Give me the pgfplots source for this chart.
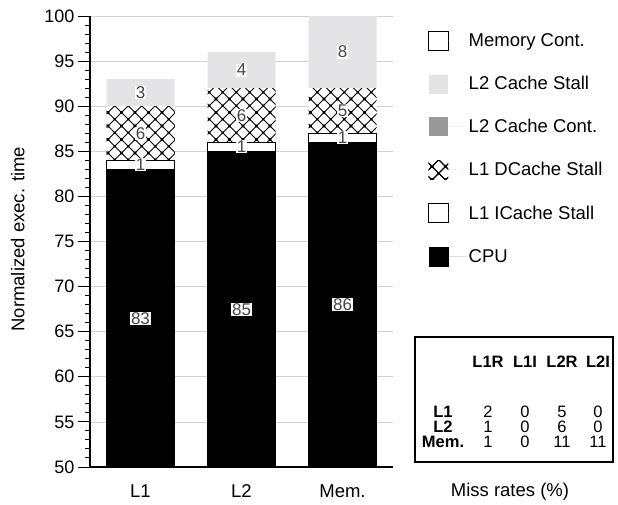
\documentclass[border=0pt]{standalone}
\usepackage{fontspec}
\setmainfont{Liberation Sans}
\setsansfont{Liberation Sans}
\usepackage{pgfplots}
\pgfplotsset{compat=1.18}
\usetikzlibrary{patterns}

\pgfdeclarepatternformonly{diamondgrid}{\pgfqpoint{-2pt}{-2pt}}{\pgfqpoint{15.5pt}{15.5pt}}{\pgfqpoint{13.5pt}{13.5pt}}{%
  \pgfsetlinewidth{0.9pt}%
  \pgfpathmoveto{\pgfqpoint{0pt}{0pt}}\pgfpathlineto{\pgfqpoint{13.5pt}{13.5pt}}%
  \pgfpathmoveto{\pgfqpoint{0pt}{13.5pt}}\pgfpathlineto{\pgfqpoint{13.5pt}{0pt}}%
  \pgfusepath{stroke}%
  \pgfpathrectangle{\pgfqpoint{5.55pt}{5.55pt}}{\pgfqpoint{2.4pt}{2.4pt}}%
  \pgfpathrectangle{\pgfqpoint{-1.2pt}{-1.2pt}}{\pgfqpoint{2.4pt}{2.4pt}}%
  \pgfpathrectangle{\pgfqpoint{12.3pt}{-1.2pt}}{\pgfqpoint{2.4pt}{2.4pt}}%
  \pgfpathrectangle{\pgfqpoint{-1.2pt}{12.3pt}}{\pgfqpoint{2.4pt}{2.4pt}}%
  \pgfpathrectangle{\pgfqpoint{12.3pt}{12.3pt}}{\pgfqpoint{2.4pt}{2.4pt}}%
  \pgfusepath{fill}%
}

\definecolor{lightstall}{RGB}{228,228,230}
\definecolor{contgray}{RGB}{153,153,153}
\definecolor{labgray}{RGB}{70,70,70}

\begin{document}
\begin{tikzpicture}[font=\fontsize{18.5}{21}\selectfont]
\path[use as bounding box] (0,0) rectangle (618pt,504pt);
\begin{axis}[
  at={(90pt,37pt)}, anchor=south west, scale only axis,
  width=303pt, height=451pt,
  ybar stacked, bar width=68pt,
  ymin=50, ymax=100, xmin=-0.5, xmax=2.5,
  xtick={0,1,2}, xticklabels={L1,L2,Mem.},
  xtick style={draw=none},
  xticklabel style={yshift=-2pt, font=\fontsize{18.5}{21}\selectfont},
  yticklabel style={font=\fontsize{18}{21}\selectfont},
  ytick={50,55,...,100},
  minor y tick num=4,
  tick align=outside,
  major tick length=12pt,
  minor tick length=5pt,
  tick style={black, line width=1pt},
  axis x line*=bottom, axis y line*=left,
  axis line style={-, line width=1.6pt},
  ymajorgrids, grid style={gray!35, line width=0.8pt},
  /pgf/number format/assume math mode=true,
  ylabel={Normalized exec. time},
  ylabel style={at={(axis description cs:-0.238,0.505)}, anchor=center},
  reverse legend,
  legend style={at={(axis description cs:1.106,0.972)}, anchor=north west, draw=none, fill=none,
    row sep=23.9pt, cells={anchor=west}, font=\fontsize{18.5}{21}\selectfont},
]
\addplot[fill=black, draw=black,
  legend image code/.code={\fill[black] (0pt,-9.5pt) rectangle (19.5pt,9.5pt); \path[draw=none] (0pt,0pt) -- (38pt,0pt);}]
  coordinates {(0,83) (1,85) (2,86)};
\addplot[fill=white, draw=black, line width=0.8pt,
  legend image code/.code={\draw[fill=white, draw=black, line width=0.8pt] (0pt,-9.5pt) rectangle (19.5pt,9.5pt); \path[draw=none] (0pt,0pt) -- (38pt,0pt);}]
  coordinates {(0,1) (1,1) (2,1)};
\addplot[fill=white, draw=none, postaction={pattern=diamondgrid},
  legend image code/.code={\fill[white] (0pt,-9.5pt) rectangle (19.5pt,9.5pt); \fill[pattern=diamondgrid] (0pt,-9.5pt) rectangle (19.5pt,9.5pt); \path[draw=none] (0pt,0pt) -- (38pt,0pt);}]
  coordinates {(0,6) (1,6) (2,5)};
\addplot[fill=contgray, draw=none,
  legend image code/.code={\fill[contgray] (0pt,-9.5pt) rectangle (19.5pt,9.5pt); \path[draw=none] (0pt,0pt) -- (38pt,0pt);}]
  coordinates {(0,0) (1,0) (2,0)};
\addplot[fill=lightstall, draw=none,
  legend image code/.code={\fill[lightstall] (0pt,-9.5pt) rectangle (19.5pt,9.5pt); \path[draw=none] (0pt,0pt) -- (38pt,0pt);}]
  coordinates {(0,3) (1,4) (2,8)};
\addplot[fill=white, draw=none,
  legend image code/.code={\draw[fill=white, draw=black, line width=0.8pt] (0pt,-9.5pt) rectangle (19.5pt,9.5pt); \path[draw=none] (0pt,0pt) -- (38pt,0pt);}]
  coordinates {(0,0) (1,0) (2,0)};

\legend{CPU, L1 ICache Stall, L1 DCache Stall, L2 Cache Cont., L2 Cache Stall, Memory Cont.}

\coordinate (a1) at (axis cs:0,66.5);
\coordinate (a2) at (axis cs:1,67.5);
\coordinate (a3) at (axis cs:2,68);
\coordinate (b1) at (axis cs:0,83.5);
\coordinate (b2) at (axis cs:1,85.5);
\coordinate (b3) at (axis cs:2,86.5);
\coordinate (c1) at (axis cs:0,87);
\coordinate (c2) at (axis cs:1,89);
\coordinate (c3) at (axis cs:2,89.5);
\coordinate (d1) at (axis cs:0,91.5);
\coordinate (d2) at (axis cs:1,94);
\coordinate (d3) at (axis cs:2,96);
\end{axis}

\begin{scope}[every node/.style={fill=white, text=labgray, inner xsep=0.8pt, inner ysep=0.6pt, font=\fontsize{17}{20}\selectfont}]
\node at (a1) {83}; \node at (a2) {85}; \node at (a3) {86};
\node at (b1) {1};  \node at (b2) {1};  \node at (b3) {1};
\node at (c1) {6};  \node at (c2) {6};  \node at (c3) {5};
\node at (d1) {3};  \node at (d2) {4};  \node at (d3) {8};
\end{scope}

% Miss rate table
\draw[line width=1.2pt] (415pt,42pt) rectangle (613pt,167pt);
\begin{scope}[every node/.style={inner sep=0pt, anchor=center, text height=11.5pt, text depth=0pt, font=\fontsize{16.5}{17}\selectfont}]
\node[font=\fontsize{16.5}{17}\selectfont\bfseries] at (488pt,142pt) {L1R};
\node[font=\fontsize{16.5}{17}\selectfont\bfseries] at (525pt,142pt) {L1I};
\node[font=\fontsize{16.5}{17}\selectfont\bfseries] at (562pt,142pt) {L2R};
\node[font=\fontsize{16.5}{17}\selectfont\bfseries] at (598pt,142pt) {L2I};
\node[font=\fontsize{16.5}{17}\selectfont\bfseries] at (443pt,92pt) {L1};
\node[font=\fontsize{16.5}{17}\selectfont\bfseries] at (443pt,77pt) {L2};
\node[font=\fontsize{16.5}{17}\selectfont\bfseries] at (443pt,62pt) {Mem.};
\node at (488pt,92pt) {2}; \node at (525pt,92pt) {0}; \node at (562pt,92pt) {5}; \node at (598pt,92pt) {0};
\node at (488pt,77pt) {1}; \node at (525pt,77pt) {0}; \node at (562pt,77pt) {6}; \node at (598pt,77pt) {0};
\node at (488pt,62pt) {1}; \node at (525pt,62pt) {0}; \node at (562pt,62pt) {11}; \node at (598pt,62pt) {11};
\end{scope}
\node[font=\fontsize{18.5}{21}\selectfont] at (510pt,12pt) {Miss rates (\%)};
\end{tikzpicture}
\end{document}
